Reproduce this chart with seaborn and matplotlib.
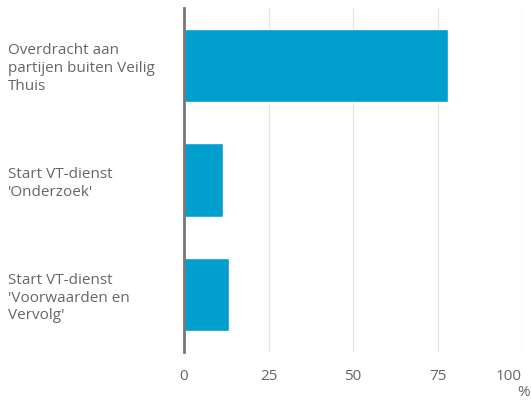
import pandas as pd
import matplotlib
matplotlib.use("Agg")
import matplotlib.pyplot as plt
import seaborn as sns

categorieen = [
    "Overdracht aan\npartijen buiten Veilig\nThuis",
    "Start VT-dienst\n'Onderzoek'",
    "Start VT-dienst\n'Voorwaarden en\nVervolg'",
]
percentages = [78, 11.5, 13.3]
xticks = [0, 25, 50, 75, 100]

df = pd.DataFrame({"categorie": categorieen, "pct": percentages})

sns.set_style("white")
plt.rcParams['font.family'] = ['Open Sans', 'DejaVu Sans']

fig = plt.figure(figsize=(5.31, 4.0), dpi=100)
ax = fig.add_axes([184 / 531, 48 / 400, 338 / 531, 344 / 400])

sns.barplot(data=df, x="pct", y="categorie", orient="h", color="#009fcd",
            saturation=1, width=0.64, ax=ax)

ax.set_xlim(0, 100)
ax.set_ylim(2.5, -0.5)
ax.set_xticks(xticks)
ax.set_xticklabels([str(t) for t in xticks])
ax.grid(axis="x", color="#e6e6e6", linewidth=1)
ax.set_axisbelow(True)
for s in ["top", "right", "bottom"]:
    ax.spines[s].set_visible(False)
ax.spines["left"].set_color("#777777")
ax.spines["left"].set_linewidth(2)
ax.set_xlabel("")
ax.set_ylabel("")

ax.tick_params(axis="x", length=0, pad=12, labelsize=11, labelcolor="#666666")
ax.tick_params(axis="y", length=0, pad=127, labelsize=11, labelcolor="#666666")
for lab in ax.get_yticklabels():
    lab.set_horizontalalignment("left")
    lab.set_linespacing(1.25)
# laatste label rechts uitlijnen zodat het binnen de figuur valt
ax.get_xticklabels()[-1].set_horizontalalignment("right")

fig.text(530 / 531, 7 / 400, "%", ha="right", va="center", fontsize=11, color="#666666")

fig.savefig("out.png", dpi=100)
